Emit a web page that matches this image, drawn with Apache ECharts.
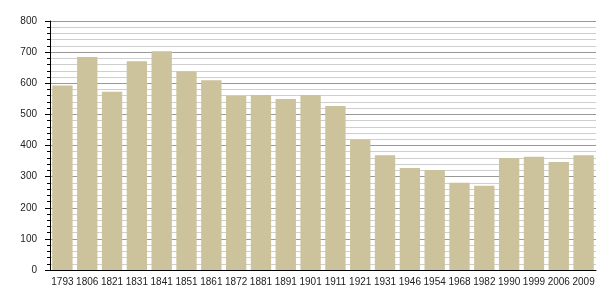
<!DOCTYPE html>
<html><head><meta charset="utf-8">
<script src="https://cdn.jsdelivr.net/npm/echarts@6/dist/echarts.min.js"></script>
<style>html,body{margin:0;padding:0;background:#fff}#c{width:605px;height:300px}</style>
</head><body><div id="c"></div>
<script>
const categories = ["1793","1806","1821","1831","1841","1851","1861","1872","1881","1891","1901","1911","1921","1931","1946","1954","1968","1982","1990","1999","2006","2009"];
const population = [593,684,573,671,703,638,610,559,562,549,562,527,419,369,328,321,280,271,360,364,347,369];
const yTicks = {min:0, max:800, interval:100};

const chart = echarts.init(document.getElementById('c'), null, {renderer:'canvas'});
chart.setOption({
  animation:false,
  backgroundColor:'#fff',
  grid:{left:50, right:9, top:21, bottom:30},
  xAxis:{
    type:'category', data:categories,
    axisLine:{lineStyle:{color:'#000', width:1}},
    axisTick:{show:false},
    axisLabel:{color:'#222', fontSize:10, fontFamily:'Liberation Sans, Arial', margin:7, interval:0}
  },
  yAxis:{
    type:'value', min:yTicks.min, max:yTicks.max, interval:yTicks.interval,
    axisLine:{show:true, lineStyle:{color:'#000', width:1}},
    axisTick:{show:true, inside:false, length:5, lineStyle:{color:'#000'}},
    minorTick:{show:true, splitNumber:5, length:3, lineStyle:{color:'#000'}},
    splitLine:{show:true, lineStyle:{color:'#999', width:1}},
    minorSplitLine:{show:true, lineStyle:{color:'#cfcfcf', width:1}},
    axisLabel:{color:'#222', fontSize:10, fontFamily:'Liberation Sans, Arial', margin:13}
  },
  series:[{
    type:'bar', data:population, barCategoryGap:'18%',
    itemStyle:{color:'#ccc29c'}
  }]
});
</script></body></html>
